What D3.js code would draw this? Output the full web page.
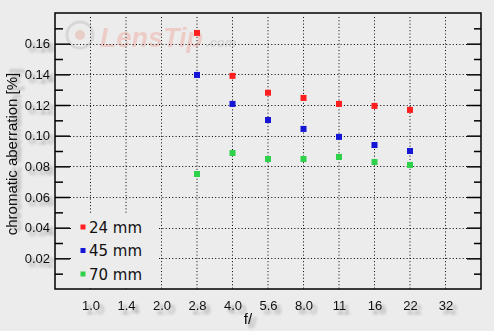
<!DOCTYPE html>
<html>
<head>
<meta charset="utf-8">
<script src="https://cdn.jsdelivr.net/npm/d3@7"></script>
<style>
  html, body { margin: 0; padding: 0; background: #ececec; }
  svg { display: block; }
  text { font-family: "Liberation Sans", Arial, sans-serif; fill: #111; }
</style>
</head>
<body>
<script>
// chart data
const fLabels = ['1.0', '1.4', '2.0', '2.8', '4.0', '5.6', '8.0', '11', '16', '22', '32']
const measured = ['2.8', '4.0', '5.6', '8.0', '11', '16', '22']
const ca24 = [0.167, 0.139, 0.128, 0.1246, 0.1207, 0.1194, 0.1168]
const ca45 = [0.1396, 0.1207, 0.1102, 0.1044, 0.0992, 0.0939, 0.090]
const ca70 = [0.075, 0.0887, 0.0848, 0.0848, 0.0861, 0.0828, 0.0809]
const seriesNames = ['24 mm', '45 mm', '70 mm']
const seriesColors = ['#ff1f1f', '#1515d6', '#2ed14a']
const majorTicks = [0.02, 0.04, 0.06, 0.08, 0.10, 0.12, 0.14, 0.16]
const minorTicks = [0.01, 0.03, 0.05, 0.07, 0.09, 0.11, 0.13, 0.15, 0.17]

const W = 494, H = 331
const pL = 55, pR = 481, pT = 13, pB = 289

const svg = d3.select('body').append('svg')
  .attr('width', W).attr('height', H)

// soft text shadow like the original
const defs = svg.append('defs')
const f = defs.append('filter').attr('id', 'shadow')
  .attr('x', '-30%').attr('y', '-30%').attr('width', '180%').attr('height', '180%')
f.append('feGaussianBlur').attr('in', 'SourceAlpha').attr('stdDeviation', 1.8).attr('result', 'b')
f.append('feOffset').attr('in', 'b').attr('dx', 4).attr('dy', 4).attr('result', 'o')
f.append('feComponentTransfer').attr('in', 'o').attr('result', 'c')
  .append('feFuncA').attr('type', 'linear').attr('slope', 0.35)
const merge = f.append('feMerge')
merge.append('feMergeNode').attr('in', 'c')
merge.append('feMergeNode').attr('in', 'SourceGraphic')

const x = d3.scalePoint().domain(fLabels).range([pL, pR]).padding(1)
const y = d3.scaleLinear().domain([0, 0.18]).range([pB, pT])

// watermark (one text element, ".com" as a tspan)
const wm = svg.append('g').attr('opacity', 0.5)
wm.append('circle').attr('cx', 80).attr('cy', 35).attr('r', 13)
  .attr('fill', 'none').attr('stroke', '#c4c4c4').attr('stroke-width', 3)
wm.append('circle').attr('cx', 80).attr('cy', 35).attr('r', 5).attr('fill', '#e8b0a8')
const wmText = wm.append('text').attr('x', 100).attr('y', 47)
  .style('font-weight', 'bold').style('font-style', 'italic')
wmText.append('tspan').style('font-size', '27px').style('fill', '#eeaea4').text('LensTip')
wmText.append('tspan').attr('dx', 3).style('font-size', '13px').style('fill', '#c0c0c0').text('.com')

// dotted grid
svg.append('g').selectAll('line').data(fLabels).join('line')
  .attr('x1', d => x(d)).attr('x2', d => x(d))
  .attr('y1', pT + 4).attr('y2', pB)
  .attr('stroke', '#000').attr('stroke-dasharray', '1,2.3')
svg.append('g').selectAll('line').data(majorTicks).join('line')
  .attr('x1', pL + 15).attr('x2', pR - 14)
  .attr('y1', d => Math.round(y(d)) + 0.5).attr('y2', d => Math.round(y(d)) + 0.5)
  .attr('stroke', '#000').attr('stroke-dasharray', '1,2.3')

// axes
const yLeft = svg.append('g').attr('transform', `translate(${pL},0)`)
  .call(d3.axisLeft(y).tickValues(majorTicks).tickSize(-15).tickPadding(5).tickFormat(d3.format('.2f')))
yLeft.select('.domain').remove()
yLeft.selectAll('line').attr('stroke-width', 1.5)
yLeft.selectAll('text').style('font-size', '13px').attr('filter', 'url(#shadow)')
  .style('font-family', '"Liberation Sans", Arial, sans-serif')
const yLeftMinor = svg.append('g').attr('transform', `translate(${pL},0)`)
  .call(d3.axisLeft(y).tickValues(minorTicks).tickSize(-8).tickFormat(''))
yLeftMinor.select('.domain').remove()
yLeftMinor.selectAll('line').attr('stroke-width', 1.5)
const yRight = svg.append('g').attr('transform', `translate(${pR},0)`)
  .call(d3.axisRight(y).tickValues(majorTicks).tickSize(-14).tickFormat(''))
yRight.select('.domain').remove()
yRight.selectAll('line').attr('stroke-width', 1.5)
const yRightMinor = svg.append('g').attr('transform', `translate(${pR},0)`)
  .call(d3.axisRight(y).tickValues(minorTicks).tickSize(-7).tickFormat(''))
yRightMinor.select('.domain').remove()
yRightMinor.selectAll('line').attr('stroke-width', 1.5)

const xAxis = svg.append('g').attr('transform', `translate(0,${pB})`)
  .call(d3.axisBottom(x).tickSize(0).tickPadding(12))
xAxis.select('.domain').remove()
xAxis.selectAll('text').style('font-size', '13px').attr('filter', 'url(#shadow)')
  .style('font-family', '"Liberation Sans", Arial, sans-serif')

// legend box hides grid
const lg = svg.append('g')
lg.append('rect').attr('x', pL + 16).attr('y', 214).attr('width', 88).attr('height', 74)
  .attr('fill', '#ececec')
lg.selectAll('rect.k').data(seriesNames).join('rect').attr('class', 'k')
  .attr('x', 80.5).attr('y', (d, i) => 224.5 + i * 23.5).attr('width', 5).attr('height', 5)
  .attr('fill', (d, i) => seriesColors[i])
lg.selectAll('text').data(seriesNames).join('text')
  .attr('x', 89).attr('y', (d, i) => 232.5 + i * 23.5)
  .style('font-family', '"DejaVu Sans", sans-serif').style('font-size', '15px')
  .text(d => d)

// frame
svg.append('rect').attr('x', pL).attr('y', pT)
  .attr('width', pR - pL).attr('height', pB - pT)
  .attr('fill', 'none').attr('stroke', '#000').attr('stroke-width', 1.5)

// points
const allSeries = [ca24, ca45, ca70]
allSeries.forEach((vals, si) => {
  svg.append('g').selectAll('rect').data(vals).join('rect')
    .attr('x', (d, i) => x(measured[i]) - 3)
    .attr('y', d => y(d) - 3)
    .attr('width', 6).attr('height', 6)
    .attr('fill', seriesColors[si])
})

// titles
svg.append('text').attr('x', 248).attr('y', 324).attr('text-anchor', 'middle')
  .style('font-size', '15px').attr('filter', 'url(#shadow)').text('f/')
svg.append('text').attr('transform', 'translate(17,154) rotate(-90)')
  .attr('text-anchor', 'middle').style('font-size', '15px').attr('filter', 'url(#shadow)')
  .text('chromatic aberration [%]')
</script>
</body>
</html>
